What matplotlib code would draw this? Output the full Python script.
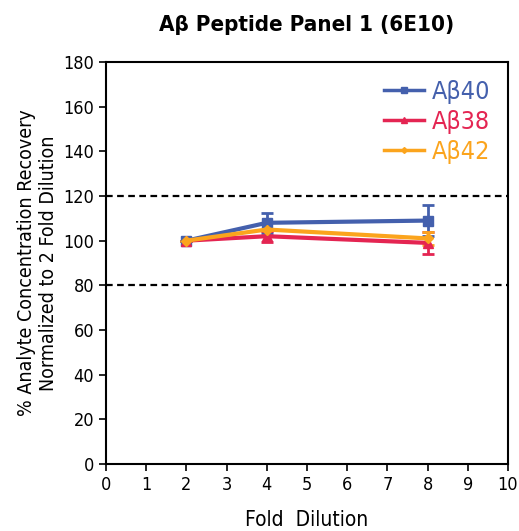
import matplotlib.pyplot as plt
from matplotlib.lines import Line2D

plt.rcParams['font.family'] = ['DejaVu Sans']
plt.rcParams['font.stretch'] = 'condensed'

# ---- Data ----
dilution = [2, 4, 8]
ab40 = [100, 108, 109]
ab40_err = [0, 4.5, 7]
ab38 = [100, 102, 99]
ab38_err = [0, 2.5, 5]
ab42 = [100, 105, 101]
ab42_err = [0, 0, 3]

series = [
    ("A\u03b240", ab40, ab40_err, "#4460ad", "s", 7),
    ("A\u03b238", ab38, ab38_err, "#e42552", "^", 7),
    ("A\u03b242", ab42, ab42_err, "#fba41d", "D", 5),
]

fig = plt.figure(figsize=(5.19, 5.31), dpi=100)
ax = fig.add_axes([0.2042, 0.1262, 0.7746, 0.757])

ax.axhline(80, color="black", ls=(0, (3, 2)), lw=1.6, zorder=1)
ax.axhline(120, color="black", ls=(0, (3, 2)), lw=1.6, zorder=1)

handles = []
for name, vals, err, col, mk, ms in series:
    ax.errorbar(dilution, vals, yerr=err, color=col, marker=mk, ms=ms,
                lw=3, elinewidth=2, capsize=4, capthick=2, zorder=3)
    handles.append(Line2D([], [], color=col, marker=mk, ms=ms - 2, lw=2.5, label=name))

ax.set_xlim(0, 10)
ax.set_ylim(0, 180)
ax.set_xticks(range(0, 11))
ax.set_yticks(range(0, 181, 20))
ax.tick_params(direction="out", length=5, width=1.2, labelsize=13)
for sp in ax.spines.values():
    sp.set_linewidth(1.5)

ax.set_xlabel("Fold  Dilution", fontsize=15, labelpad=12)
ax.set_ylabel("% Analyte Concentration Recovery\nNormalized to 2 Fold Dilution", fontsize=14)
ax.set_title("A\u03b2 Peptide Panel 1 (6E10)", fontsize=16, fontweight="bold", pad=22)

leg = ax.legend(handles=handles, loc="upper right", frameon=False, fontsize=18,
                handlelength=1.6, handletextpad=0.3, labelspacing=0.25, borderaxespad=0.3)
for txt, s in zip(leg.get_texts(), series):
    txt.set_color(s[3])

fig.savefig("out.png", dpi=100)
